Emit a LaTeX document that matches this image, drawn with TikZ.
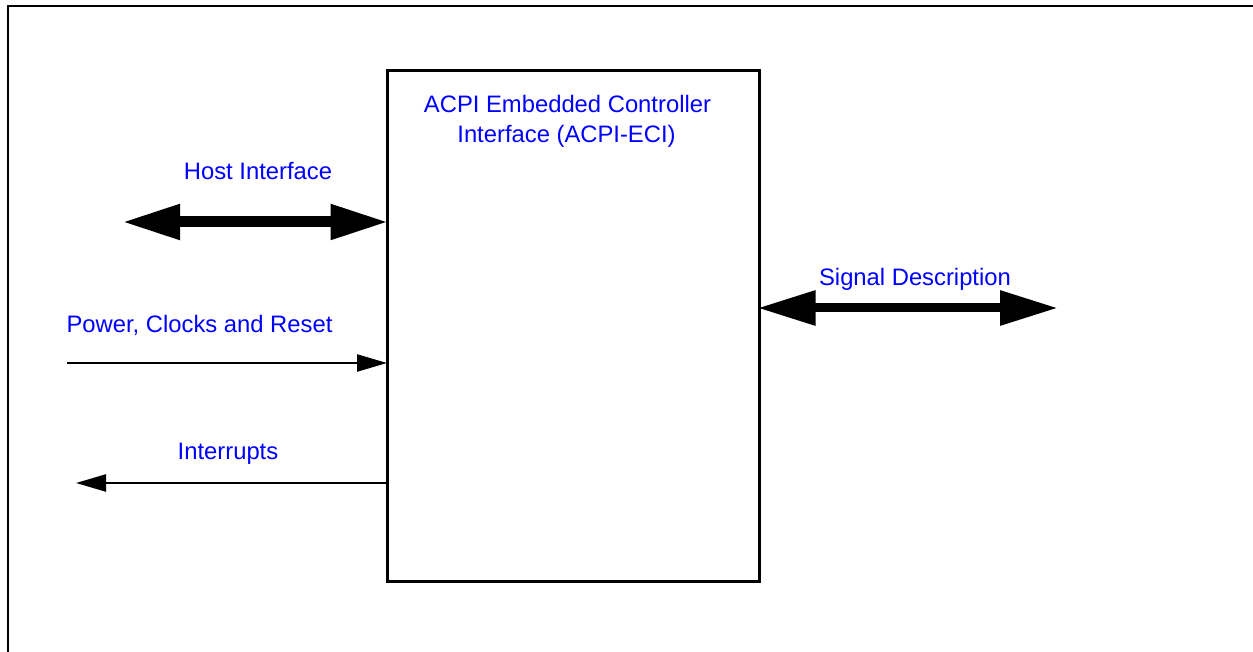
\documentclass[tikz,border=0pt]{standalone}
\usepackage{fontspec}
\setmainfont{Liberation Sans}
\usetikzlibrary{arrows.meta}
\definecolor{lblblue}{RGB}{0,0,255}
\tikzset{
  lbl/.style={text=lblblue, font=\fontsize{23.8}{30}\selectfont, anchor=base, inner sep=0pt},
  blockbox/.style={draw, line width=3pt, minimum width=372pt, minimum height=510pt, inner sep=0pt},
  busarrow/.style={line width=#1, {Triangle[length=58pt,width=33pt]}-{Triangle[length=58pt,width=33pt]}},
  thinarrow/.style={line width=2.4pt, -{Triangle[length=30pt,width=17pt]}},
  frameline/.style={line width=2pt}
}
\begin{document}
\begin{tikzpicture}[x=1pt,y=-1pt]
\useasboundingbox (0,0) rectangle (1253,652);
% outer frame (only top and left edges visible)
\coordinate (fbl) at (8,660);
\coordinate (ftl) at (8,6);
\coordinate (ftr) at (1260,6);
\draw[frameline] (fbl) -- (ftl) -- (ftr);
% main block
\node[blockbox] (box) at (573,326) {};
\node[lbl] (t1) at (567.5,112.5) {ACPI Embedded Controller};
\node[lbl] (t2) at (566.5,143) {Interface (ACPI-ECI)};
% host interface
\coordinate (hostL) at (122,222);
\draw[busarrow=11pt] (hostL) -- ([xshift=3pt]hostL -| box.west);
\node[lbl] (hostlbl) at (258,180) {Host Interface};
% signal description
\coordinate (sigR) at (1058,308);
\draw[busarrow=9pt] ([xshift=-3pt]sigR -| box.east) -- (sigR);
\node[lbl] (siglbl) at (915,285.5) {Signal Description};
% power, clocks and reset
\coordinate (pwrL) at (67,363);
\draw[thinarrow] (pwrL) -- ([xshift=1.5pt]pwrL -| box.west);
\node[lbl] (pwrlbl) at (199.5,332) {Power, Clocks and Reset};
% interrupts
\coordinate (intL) at (76,483);
\draw[thinarrow] (intL -| box.west) -- (intL);
\node[lbl] (intlbl) at (228,459) {Interrupts};
\end{tikzpicture}
\end{document}
